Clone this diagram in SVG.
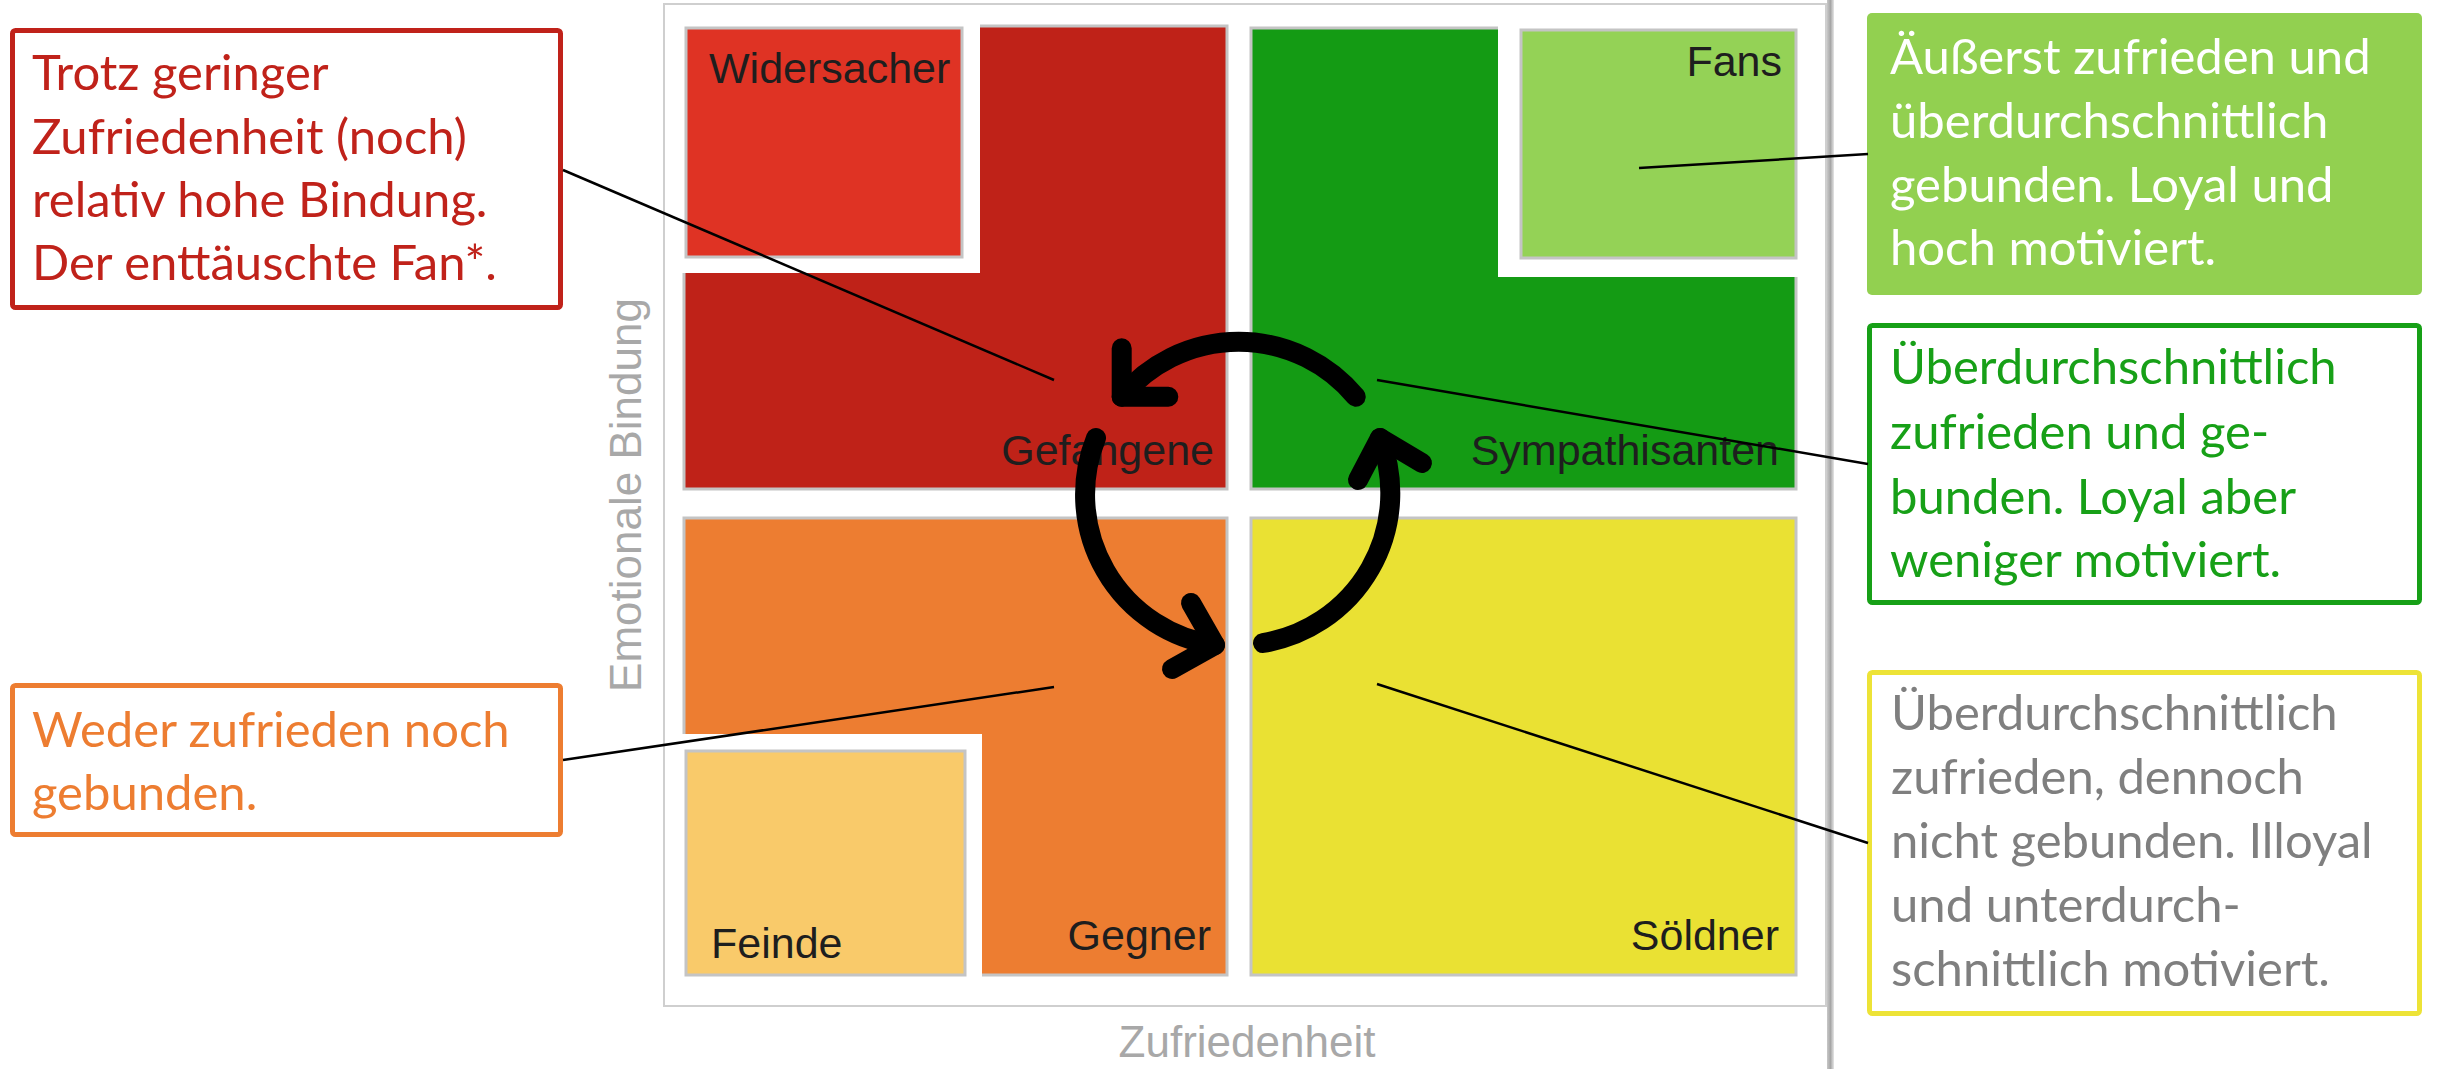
<svg xmlns="http://www.w3.org/2000/svg" width="2441" height="1069" viewBox="0 0 2441 1069">
<defs>
<style>
.q{stroke:#C4C4C4;stroke-width:3}
.cut{fill:#FFFFFF}
.ql{font-family:"Liberation Sans",Arial,sans-serif;font-size:43px;fill:#1E1E1E}
.ax{font-family:"Liberation Sans",Arial,sans-serif;font-size:44px;fill:#A8A8A8}
.cb{font-family:Lato,"Open Sans",sans-serif;font-size:49px}
.lead{stroke:#000;stroke-width:2.5;fill:none}
.cyc{stroke:#000;stroke-width:20;fill:none;stroke-linecap:round;stroke-linejoin:round}
</style>
<linearGradient id="sh" x1="0" y1="0" x2="1" y2="0">
<stop offset="0" stop-color="#C8C8C8"/>
<stop offset="0.5" stop-color="#A6A6A6"/>
<stop offset="1" stop-color="#E6E6E6"/>
</linearGradient>
</defs>
<rect width="2441" height="1069" fill="#FFFFFF"/>

<g id="chart-frame">
<rect x="664" y="4" width="1162" height="1002" fill="none" stroke="#CFCFCF" stroke-width="2"/>
<rect x="1827" y="0" width="7" height="1069" fill="url(#sh)"/>
</g>

<g id="q-gefangene">
<rect class="q" x="684" y="26" width="543" height="463" fill="#BF2218"/>
<rect class="cut" x="681" y="23" width="299" height="250"/>
<text class="ql" x="1214" y="465" text-anchor="end">Gefangene</text>
</g>
<g id="q-widersacher">
<rect class="q" x="686" y="28" width="276" height="229" fill="#DF3324"/>
<text class="ql" x="709" y="83">Widersacher</text>
</g>

<g id="q-sympathisanten">
<rect class="q" x="1251" y="28" width="545" height="461" fill="#149B14"/>
<rect class="cut" x="1498" y="24" width="302" height="253"/>
<text class="ql" x="1779" y="465" text-anchor="end">Sympathisanten</text>
</g>
<g id="q-fans">
<rect class="q" x="1521" y="30" width="275" height="228" fill="#94D256"/>
<text class="ql" x="1782" y="76" text-anchor="end">Fans</text>
</g>

<g id="q-gegner">
<rect class="q" x="684" y="518" width="543" height="457" fill="#ED7D31"/>
<rect class="cut" x="681" y="734" width="301" height="245"/>
<text class="ql" x="1211" y="950" text-anchor="end">Gegner</text>
</g>
<g id="q-feinde">
<rect class="q" x="686" y="751" width="279" height="224" fill="#F9CA6A"/>
<text class="ql" x="711" y="958">Feinde</text>
</g>

<g id="q-soeldner">
<rect class="q" x="1251" y="518" width="545" height="457" fill="#EAE133"/>
<text class="ql" x="1779" y="950" text-anchor="end">Söldner</text>
</g>

<g id="axis-labels">
<text class="ax" x="1247" y="1057" text-anchor="middle">Zufriedenheit</text>
<text class="ax" transform="translate(641,495) rotate(-90)" x="0" y="0" text-anchor="middle">Emotionale Bindung</text>
</g>

<g id="box-gefangene">
<rect x="12.5" y="30.5" width="548" height="277" rx="3" fill="#FFFFFF" stroke="#C0221A" stroke-width="5"/>
<text class="cb" fill="#C0221A"><tspan x="32" y="90">Trotz geringer</tspan><tspan x="32" y="154">Zufriedenheit (noch)</tspan><tspan x="32" y="217">relativ hohe Bindung.</tspan><tspan x="32" y="280">Der enttäuschte Fan*.</tspan></text>
</g>

<g id="box-gegner">
<rect x="12.5" y="685.5" width="548" height="149" rx="3" fill="#FFFFFF" stroke="#ED7D31" stroke-width="5"/>
<text class="cb" fill="#ED7D31"><tspan x="32" y="747">Weder zufrieden noch</tspan><tspan x="32" y="810">gebunden.</tspan></text>
</g>

<g id="box-fans">
<rect x="1867" y="13" width="555" height="282" rx="5" fill="#92D050"/>
<text class="cb" fill="#FFFFFF"><tspan x="1890" y="74">Äußerst zufrieden und</tspan><tspan x="1890" y="138">überdurchschnittlich</tspan><tspan x="1890" y="202">gebunden. Loyal und</tspan><tspan x="1890" y="265">hoch motiviert.</tspan></text>
</g>

<g id="box-sympathisanten">
<rect x="1869.5" y="325.5" width="550" height="277" rx="3" fill="#FFFFFF" stroke="#17A017" stroke-width="5"/>
<text class="cb" fill="#17A017"><tspan x="1890" y="384">Überdurchschnittlich</tspan><tspan x="1890" y="449">zufrieden und ge-</tspan><tspan x="1890" y="514">bunden. Loyal aber</tspan><tspan x="1890" y="577">weniger motiviert.</tspan></text>
</g>

<g id="box-soeldner">
<rect x="1869.5" y="672.5" width="550" height="341" rx="3" fill="#FFFFFF" stroke="#EDE337" stroke-width="5"/>
<text class="cb" fill="#7F7F7F"><tspan x="1891" y="730">Überdurchschnittlich</tspan><tspan x="1891" y="794">zufrieden, dennoch</tspan><tspan x="1891" y="858">nicht gebunden. Illoyal</tspan><tspan x="1891" y="922">und unterdurch-</tspan><tspan x="1891" y="986">schnittlich motiviert.</tspan></text>
</g>

<g id="connectors">
<line class="lead" x1="563" y1="170" x2="1054" y2="380"/>
<line class="lead" x1="1639" y1="168" x2="1868" y2="154"/>
<line class="lead" x1="1377" y1="380" x2="1868" y2="464"/>
<line class="lead" x1="563" y1="760" x2="1054" y2="687"/>
<line class="lead" x1="1377" y1="684" x2="1868" y2="843"/>
<path class="cyc" d="M1355.7,396.7 A152,152 0 0 0 1121.7,396.7"/>
<path class="cyc" d="M1121.7,348.3 L1121.7,396.7 L1168.3,396.7"/>
<path class="cyc" d="M1096,438 A152,152 0 0 0 1215,645"/>
<path class="cyc" d="M1191,603 L1215,645 L1172,669"/>
<path class="cyc" d="M1263,643 A152,152 0 0 0 1380,438"/>
<path class="cyc" d="M1358,480 L1380,438 L1422,463"/>
</g>
</svg>
